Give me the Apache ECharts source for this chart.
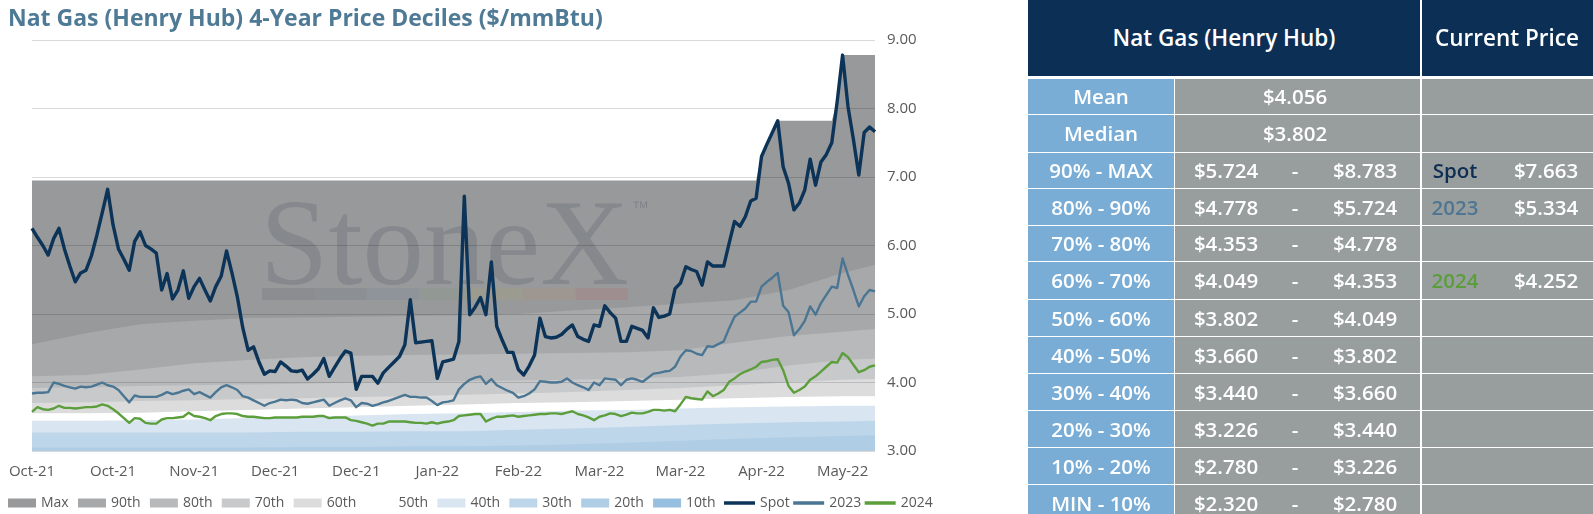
<!DOCTYPE html>
<html>
<head>
<meta charset="utf-8">
<script src="https://cdn.jsdelivr.net/npm/echarts@6/dist/echarts.min.js"></script>
<style>
  html, body { margin: 0; padding: 0; background: #fff; }
  body { width: 1593px; height: 514px; position: relative; overflow: hidden; font-family: "Open Sans", Lato, sans-serif; }
  #chart { position: absolute; left: 0; top: 0; width: 1593px; height: 514px; }
  #stats { position: absolute; left: 1028px; top: 0; width: 565px; height: 514px; z-index: 2; }
  #stats div.c { position: absolute; color: #fff; font-weight: 600; box-sizing: border-box; }
  #stats span { position: absolute; top: 0; transform: translateX(-50%); white-space: nowrap; }
</style>
</head>
<body>
<div id="chart"></div>
<div id="stats"></div>
<script>
// daily values, Oct-21 .. May-22 (157 trading days)
var spot = [
  6.25, 6.12, 6.00, 5.86, 6.10, 6.25, 5.95, 5.70, 5.47, 5.60,
  5.64, 5.85, 6.15, 6.48, 6.82, 6.30, 5.95, 5.80, 5.64, 6.06,
  6.20, 6.00, 5.95, 5.89, 5.35, 5.59, 5.22, 5.35, 5.63, 5.23,
  5.40, 5.52, 5.35, 5.19, 5.40, 5.55, 5.92, 5.60, 5.25, 4.80,
  4.47, 4.52, 4.30, 4.12, 4.17, 4.16, 4.30, 4.24, 4.17, 4.16,
  4.18, 4.05, 4.12, 4.20, 4.35, 4.09, 4.22, 4.35, 4.46, 4.43,
  3.90, 4.09, 4.09, 4.09, 3.99, 4.14, 4.22, 4.30, 4.38, 4.55,
  5.21, 4.58, 4.59, 4.60, 4.61, 4.06, 4.30, 4.32, 4.34, 4.60,
  6.72, 4.99, 5.10, 5.24, 4.99, 5.76, 4.82, 4.62, 4.44, 4.44,
  4.19, 4.11, 4.24, 4.40, 4.94, 4.67, 4.65, 4.66, 4.70, 4.78,
  4.84, 4.67, 4.63, 4.60, 4.84, 4.82, 5.12, 5.02, 4.94, 4.60,
  4.60, 4.82, 4.79, 4.76, 4.65, 5.09, 4.95, 4.97, 5.00, 5.37,
  5.45, 5.69, 5.65, 5.62, 5.42, 5.76, 5.70, 5.70, 5.70, 6.03,
  6.35, 6.28, 6.42, 6.65, 6.69, 7.30, 7.48, 7.65, 7.82, 7.15,
  6.91, 6.52, 6.62, 6.81, 7.26, 6.88, 7.22, 7.33, 7.50, 8.10,
  8.78, 8.03, 7.55, 7.03, 7.65, 7.73, 7.66
];
var y2023 = [
  3.84, 3.85, 3.85, 3.86, 4.00, 3.98, 3.95, 3.93, 3.91, 3.94,
  3.93, 3.94, 3.97, 4.00, 3.96, 3.94, 3.89, 3.80, 3.71, 3.81,
  3.79, 3.79, 3.79, 3.79, 3.82, 3.86, 3.83, 3.85, 3.88, 3.90,
  3.83, 3.86, 3.82, 3.78, 3.86, 3.93, 3.96, 3.93, 3.89, 3.80,
  3.78, 3.74, 3.70, 3.66, 3.70, 3.72, 3.75, 3.74, 3.75, 3.74,
  3.70, 3.69, 3.71, 3.73, 3.75, 3.66, 3.70, 3.74, 3.77, 3.74,
  3.64, 3.70, 3.69, 3.66, 3.68, 3.71, 3.73, 3.76, 3.79, 3.82,
  3.79, 3.79, 3.78, 3.78, 3.73, 3.67, 3.71, 3.72, 3.74, 3.90,
  3.98, 4.04, 4.07, 4.09, 3.98, 4.05, 3.96, 3.92, 3.88, 3.85,
  3.78, 3.80, 3.84, 3.90, 4.02, 4.01, 4.00, 4.00, 4.01, 4.06,
  4.00, 3.96, 3.93, 3.89, 4.00, 3.96, 4.06, 4.05, 4.04, 3.96,
  4.04, 4.06, 4.04, 4.01, 4.07, 4.13, 4.14, 4.16, 4.17, 4.23,
  4.38, 4.47, 4.46, 4.42, 4.40, 4.53, 4.52, 4.56, 4.60, 4.79,
  4.96, 5.02, 5.08, 5.18, 5.18, 5.40, 5.47, 5.53, 5.60, 5.12,
  5.03, 4.69, 4.78, 4.90, 5.11, 4.99, 5.16, 5.28, 5.40, 5.38,
  5.81, 5.57, 5.35, 5.11, 5.26, 5.35, 5.33
];
var y2024 = [
  3.57, 3.64, 3.61, 3.60, 3.62, 3.66, 3.63, 3.63, 3.62, 3.63,
  3.64, 3.64, 3.65, 3.68, 3.66, 3.61, 3.55, 3.48, 3.41, 3.48,
  3.47, 3.41, 3.40, 3.40, 3.46, 3.48, 3.48, 3.49, 3.50, 3.56,
  3.51, 3.50, 3.48, 3.45, 3.51, 3.54, 3.55, 3.55, 3.54, 3.51,
  3.50, 3.50, 3.49, 3.48, 3.48, 3.49, 3.49, 3.49, 3.49, 3.49,
  3.50, 3.50, 3.50, 3.51, 3.51, 3.48, 3.49, 3.49, 3.49, 3.45,
  3.44, 3.42, 3.40, 3.37, 3.40, 3.40, 3.43, 3.43, 3.43, 3.43,
  3.42, 3.41, 3.41, 3.40, 3.42, 3.40, 3.42, 3.43, 3.45, 3.51,
  3.52, 3.53, 3.54, 3.54, 3.43, 3.47, 3.50, 3.50, 3.51, 3.52,
  3.50, 3.51, 3.52, 3.53, 3.54, 3.54, 3.55, 3.55, 3.54, 3.56,
  3.58, 3.54, 3.52, 3.49, 3.45, 3.50, 3.52, 3.55, 3.54, 3.51,
  3.53, 3.56, 3.55, 3.55, 3.57, 3.60, 3.60, 3.59, 3.60, 3.58,
  3.68, 3.79, 3.77, 3.76, 3.75, 3.87, 3.80, 3.84, 3.89, 4.01,
  4.06, 4.12, 4.16, 4.19, 4.23, 4.30, 4.31, 4.33, 4.34, 4.18,
  3.95, 3.85, 3.89, 3.94, 4.04, 4.09, 4.16, 4.23, 4.30, 4.29,
  4.43, 4.37, 4.26, 4.15, 4.18, 4.23, 4.25
];

// 4-year max (steps up when spot breaks it)
var maxIdx  = [0, 134, 135, 136, 137, 138, 148, 149, 150, 156];
var maxVals = [6.95, 6.95, 7.30, 7.48, 7.65, 7.82, 7.82, 8.10, 8.78, 8.78];

// decile levels, read every 10 days
var bandIdx = [0, 10, 20, 30, 40, 50, 60, 70, 80, 90, 100, 110, 120, 130, 140, 150, 156];
var p90 = [4.56, 4.72, 4.85, 4.90, 4.94, 4.95, 4.96, 4.97, 4.98, 5.00, 5.05, 5.10, 5.15, 5.20, 5.35, 5.60, 5.72];
var p80 = [4.09, 4.11, 4.19, 4.28, 4.33, 4.37, 4.39, 4.40, 4.41, 4.42, 4.43, 4.44, 4.47, 4.58, 4.68, 4.74, 4.78];
var p70 = [3.92, 3.93, 3.95, 3.96, 3.97, 3.98, 4.00, 4.01, 4.02, 4.03, 4.04, 4.06, 4.08, 4.14, 4.25, 4.33, 4.35];
var p60 = [3.70, 3.71, 3.73, 3.74, 3.76, 3.77, 3.79, 3.80, 3.82, 3.84, 3.86, 3.89, 3.92, 3.96, 4.00, 4.04, 4.05];
var p50 = [3.55, 3.55, 3.56, 3.58, 3.60, 3.62, 3.64, 3.66, 3.68, 3.70, 3.71, 3.73, 3.75, 3.77, 3.79, 3.80, 3.80];
var p40 = [3.44, 3.44, 3.45, 3.46, 3.48, 3.50, 3.52, 3.54, 3.55, 3.57, 3.59, 3.60, 3.62, 3.64, 3.65, 3.66, 3.66];
var p30 = [3.27, 3.27, 3.27, 3.27, 3.27, 3.28, 3.28, 3.29, 3.29, 3.31, 3.33, 3.35, 3.38, 3.40, 3.42, 3.43, 3.44];
var p20 = [3.05, 3.05, 3.05, 3.05, 3.05, 3.06, 3.06, 3.07, 3.07, 3.08, 3.10, 3.12, 3.15, 3.18, 3.20, 3.22, 3.23];
var p10 = [2.70, 2.70, 2.71, 2.71, 2.72, 2.72, 2.73, 2.73, 2.74, 2.74, 2.75, 2.75, 2.76, 2.77, 2.77, 2.78, 2.78];

var tickLabels = ['Oct-21', 'Oct-21', 'Nov-21', 'Dec-21', 'Dec-21', 'Jan-22', 'Feb-22', 'Mar-22', 'Mar-22', 'Apr-22', 'May-22'];
var tickStep = 15;

// table
var statLabels = ['Mean', 'Median', '90% - MAX', '80% - 90%', '70% - 80%', '60% - 70%', '50% - 60%', '40% - 50%', '30% - 40%', '20% - 30%', '10% - 20%', 'MIN - 10%'];
var statLow  = ['$4.056', '$3.802', '$5.724', '$4.778', '$4.353', '$4.049', '$3.802', '$3.660', '$3.440', '$3.226', '$2.780', '$2.320'];
var statHigh = ['', '', '$8.783', '$5.724', '$4.778', '$4.353', '$4.049', '$3.802', '$3.660', '$3.440', '$3.226', '$2.780'];
var curNames = ['', '', 'Spot', '2023', '', '2024', '', '', '', '', '', ''];
var curVals  = ['', '', '$7.663', '$5.334', '', '$4.252', '', '', '', '', '', ''];

var FONT = '"Open Sans", Lato, sans-serif';
var AXIS_GREY = '#595959';

function pairs(idx, vals) {
  return idx.map(function (x, k) { return [x, vals[k]]; });
}
function daily(vals) {
  return vals.map(function (v, i) { return [i, v]; });
}

var bands = [
  { name: 'Max',  color: '#98999b', data: pairs(maxIdx, maxVals) },
  { name: '90th', color: '#a7a8aa', data: pairs(bandIdx, p90) },
  { name: '80th', color: '#b8b9bb', data: pairs(bandIdx, p80) },
  { name: '70th', color: '#c8c9ca', data: pairs(bandIdx, p70) },
  { name: '60th', color: '#dcdcdc', data: pairs(bandIdx, p60) },
  { name: '50th', color: '#ffffff', data: pairs(bandIdx, p50) },
  { name: '40th', color: '#d9e6f2', data: pairs(bandIdx, p40) },
  { name: '30th', color: '#bdd6ea', data: pairs(bandIdx, p30) },
  { name: '20th', color: '#b0cde6', data: pairs(bandIdx, p20) },
  { name: '10th', color: '#97bfe0', data: pairs(bandIdx, p10) }
];

var lines = [
  { name: 'Spot', color: '#0c3358', width: 3.4, data: daily(spot) },
  { name: '2023', color: '#4b7693', width: 2.4, data: daily(y2023) },
  { name: '2024', color: '#5b9e3b', width: 2.4, data: daily(y2024) }
];

var series = [];
bands.forEach(function (b) {
  series.push({
    name: b.name,
    type: 'line',
    data: b.data,
    symbol: 'none',
    silent: true,
    z: 2,
    color: b.color,
    lineStyle: { width: 0 },
    areaStyle: { color: b.color, opacity: 1, origin: 'start' }
  });
});
lines.forEach(function (l) {
  series.push({
    name: l.name,
    type: 'line',
    data: l.data,
    symbol: 'none',
    z: 5,
    color: l.color,
    lineStyle: { color: l.color, width: l.width, join: 'round' }
  });
});

// StoneX watermark
var stripeColors = ['rgba(95,100,108,0.22)', 'rgba(95,105,118,0.2)', 'rgba(110,128,150,0.2)', 'rgba(120,150,110,0.18)', 'rgba(175,165,100,0.2)', 'rgba(185,140,100,0.2)', 'rgba(180,105,105,0.22)'];
var watermark = [
  {
    type: 'text', z: 3, silent: true, x: 260, y: 252,
    style: { text: 'StoneX', font: '123px "Liberation Serif", "DejaVu Serif", serif', fill: 'rgba(108,113,119,0.42)', textVerticalAlign: 'middle' }
  },
  {
    type: 'text', z: 3, silent: true, x: 632, y: 208,
    style: { text: '™', font: '17px "Liberation Sans", sans-serif', fill: 'rgba(108,113,119,0.5)', textVerticalAlign: 'middle' }
  }
];
stripeColors.forEach(function (c, k) {
  watermark.push({
    type: 'rect', z: 3, silent: true,
    shape: { x: 262 + k * 52.3, y: 288, width: 52.3, height: 12 },
    style: { fill: c }
  });
});

var legendText = { color: AXIS_GREY, fontSize: 14, fontFamily: FONT };

var chart = echarts.init(document.getElementById('chart'), null, { renderer: 'canvas' });

var option = {
  backgroundColor: '#ffffff',
  animation: false,
  title: {
    text: 'Nat Gas (Henry Hub) 4-Year Price Deciles ($/mmBtu)',
    left: 3,
    top: 3,
    textStyle: { color: '#4f7a96', fontSize: 23, fontWeight: 'bold', fontFamily: FONT }
  },
  grid: { left: 32, right: 718, top: 40, bottom: 63, outerBoundsMode: 'none' },
  xAxis: {
    type: 'value',
    min: 0,
    max: 156,
    interval: tickStep,
    axisLine: { show: false },
    axisTick: { show: false },
    splitLine: { show: false },
    axisLabel: {
      color: AXIS_GREY,
      fontSize: 15,
      fontFamily: FONT,
      margin: 13,
      showMaxLabel: false,
      formatter: function (v) {
        return v % tickStep === 0 ? (tickLabels[v / tickStep] || '') : '';
      }
    }
  },
  yAxis: {
    type: 'value',
    position: 'right',
    min: 3,
    max: 9,
    interval: 1,
    z: 3,
    axisLine: { show: false },
    axisTick: { show: false },
    splitLine: { lineStyle: { color: 'rgba(0,0,0,0.15)', width: 1 } },
    axisLabel: {
      color: AXIS_GREY,
      fontSize: 15,
      fontFamily: FONT,
      margin: 12,
      formatter: function (v) { return v.toFixed(2); }
    }
  },
  legend: [
    {
      left: 8,
      top: 496,
      padding: 0,
      itemWidth: 28,
      itemHeight: 9,
      itemGap: 9.3,
      selectedMode: false,
      textStyle: legendText,
      data: bands.map(function (b) { return { name: b.name, icon: 'rect' }; })
    },
    {
      left: 724,
      top: 496,
      padding: 0,
      itemWidth: 31,
      itemHeight: 3.5,
      itemGap: 3.5,
      selectedMode: false,
      textStyle: legendText,
      data: lines.map(function (l) { return { name: l.name, icon: 'rect' }; })
    }
  ],
  graphic: watermark,
  series: series
};

chart.setOption(option);

// stats table on the right
var box = document.getElementById('stats');
var NAVY = '#0c2f55', BLUE = '#7aadd5', GREY = '#989e9e';
var nameColors = { 'Spot': '#0d2d52', '2023': '#4e7591', '2024': '#5a9e3a' };
var rowTops = [79, 115, 153, 189, 226, 262, 300, 337, 374, 411, 448, 485, 522];

function cell(x, y, w, h, bg) {
  var d = document.createElement('div');
  d.className = 'c';
  d.style.left = x + 'px'; d.style.top = y + 'px';
  d.style.width = w + 'px'; d.style.height = h + 'px';
  d.style.background = bg;
  box.appendChild(d);
  return d;
}
function label(d, text, cx, size, color) {
  var s = document.createElement('span');
  s.textContent = text;
  s.style.left = cx + 'px';
  s.style.fontSize = size + 'px';
  s.style.lineHeight = d.style.height;
  if (color) s.style.color = color;
  d.appendChild(s);
}

var h1 = cell(0, 0, 392, 76, NAVY);
label(h1, 'Nat Gas (Henry Hub)', 196, 22.5);
var h2 = cell(394, 0, 171, 76, NAVY);
label(h2, 'Current Price', 85, 22.5);

statLabels.forEach(function (name, r) {
  var top = rowTops[r];
  var h = rowTops[r + 1] - top - 1;
  var a = cell(0, top, 146, h, BLUE);
  label(a, name, 73, 20.5);
  var b = cell(147, top, 245, h, GREY);
  if (statHigh[r]) {
    label(b, statLow[r], 51, 20.5);
    label(b, '-', 120, 20.5);
    label(b, statHigh[r], 190, 20.5);
  } else {
    label(b, statLow[r], 120, 20.5);
  }
  var c = cell(394, top, 171, h, GREY);
  if (curNames[r]) {
    label(c, curNames[r], 33, 20.5, nameColors[curNames[r]]);
    label(c, curVals[r], 124, 20.5);
  }
});
</script>
</body>
</html>
